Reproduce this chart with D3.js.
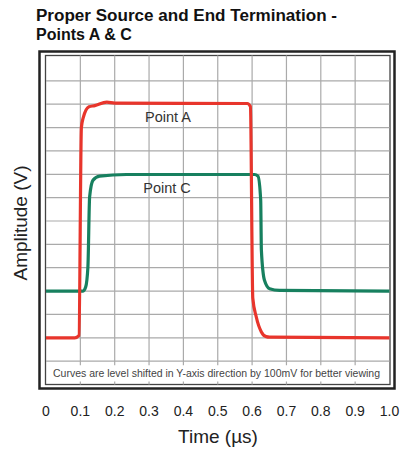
<!DOCTYPE html>
<html>
<head>
<meta charset="utf-8">
<script src="https://cdn.jsdelivr.net/npm/d3@7"></script>
<style>
  body { margin: 0; background: #fff; }
  text { font-family: "Liberation Sans", Arial, sans-serif; }
</style>
</head>
<body>
<div id="chart"></div>
<script>
// time (us) and amplitude (V)
var pointA_t = [0, 0.084, 0.096, 0.103, 0.108, 0.125, 0.142, 0.177, 0.2, 0.586, 0.595, 0.602, 0.612, 0.627, 0.641, 0.651, 1.0];
var pointA_v = [0.2, 0.2, 0.21, 1.10, 1.14, 1.189, 1.194, 1.209, 1.205, 1.203, 1.19, 0.37, 0.29, 0.225, 0.205, 0.203, 0.2];
var pointC_t = [0, 0.108, 0.1155, 0.122, 0.127, 0.137, 0.156, 0.234, 0.607, 0.617, 0.625, 0.627, 0.636, 0.651, 0.68, 1.0];
var pointC_v = [0.4, 0.4, 0.417, 0.503, 0.803, 0.875, 0.892, 0.899, 0.899, 0.892, 0.79, 0.575, 0.446, 0.41, 0.403, 0.4];
var xTicks = [0, 0.1, 0.2, 0.3, 0.4, 0.5, 0.6, 0.7, 0.8, 0.9, 1.0];
var xTickLabels = ["0", "0.1", "0.2", "0.3", "0.4", "0.5", "0.6", "0.7", "0.8", "0.9", "1.0"];
var yGrid = [0.1, 0.2, 0.3, 0.4, 0.5, 0.6, 0.7, 0.8, 0.9, 1.0, 1.1, 1.2, 1.3];

var width = 401, height = 449;
var svg = d3.select("#chart").append("svg")
    .attr("width", width)
    .attr("height", height);

var x = d3.scaleLinear().domain([0, 1]).range([46, 389.5]);
var y = d3.scaleLinear().domain([0, 1.4]).range([384.5, 57.5]);

// title
svg.append("text").attr("x", 36).attr("y", 21)
    .attr("textLength", 301).attr("lengthAdjust", "spacingAndGlyphs")
    .style("font-size", "16px").style("font-weight", "bold").attr("fill", "#111")
    .text("Proper Source and End Termination -");
svg.append("text").attr("x", 36).attr("y", 40)
    .style("font-size", "16px").style("font-weight", "bold").attr("fill", "#111")
    .text("Points A & C");

// frames
svg.append("rect").attr("x", 39.5).attr("y", 51.5).attr("width", 355).attr("height", 337)
    .attr("fill", "#fff").attr("stroke", "#222").attr("stroke-width", 2.5);
svg.append("rect").attr("x", x(0) - 0.5).attr("y", y(1.4) - 2).attr("width", x(1) - x(0) + 1).attr("height", y(0) - y(1.4) + 2)
    .attr("fill", "#fff").attr("stroke", "#444").attr("stroke-width", 1.3);

// grid
var grid = svg.append("g").attr("stroke", "#aaa").attr("stroke-width", 1.2);
grid.selectAll(".vx").data(xTicks.slice(1, -1)).enter().append("line")
    .attr("x1", function(d) { return x(d); }).attr("x2", function(d) { return x(d); })
    .attr("y1", y(1.4) - 2).attr("y2", y(0.1) + 4);
grid.selectAll(".bx").data(xTicks.slice(1, -1)).enter().append("line")
    .attr("x1", function(d) { return x(d); }).attr("x2", function(d) { return x(d); })
    .attr("y1", y(0) - 3).attr("y2", y(0));
grid.selectAll(".hy").data(yGrid).enter().append("line")
    .attr("x1", x(0)).attr("x2", x(1))
    .attr("y1", function(d) { return y(d); }).attr("y2", function(d) { return y(d); });

// curves
var line = d3.line()
    .x(function(d) { return x(d[0]); })
    .y(function(d) { return y(d[1]); })
    .curve(d3.curveMonotoneX);

svg.append("path").datum(d3.zip(pointC_t, pointC_v))
    .attr("d", line).attr("fill", "none")
    .attr("stroke", "#17805f").attr("stroke-width", 3.2).attr("stroke-linejoin", "round");
svg.append("path").datum(d3.zip(pointA_t, pointA_v))
    .attr("d", line).attr("fill", "none")
    .attr("stroke", "#e8352c").attr("stroke-width", 3.2).attr("stroke-linejoin", "round");

// curve labels
svg.append("text").attr("x", 168).attr("y", 122).attr("text-anchor", "middle")
    .style("font-size", "14.5px").attr("fill", "#333").text("Point A");
svg.append("text").attr("x", 167).attr("y", 193).attr("text-anchor", "middle")
    .style("font-size", "14.5px").attr("fill", "#333").text("Point C");

// note
svg.append("text").attr("x", 53).attr("y", 377)
    .attr("textLength", 327).attr("lengthAdjust", "spacingAndGlyphs")
    .style("font-size", "10.5px").attr("fill", "#444")
    .text("Curves are level shifted in Y-axis direction by 100mV for better viewing");

// x tick labels
svg.selectAll(".xt").data(xTicks).enter().append("text")
    .attr("x", function(d) { return x(d); }).attr("y", 416)
    .attr("text-anchor", "middle")
    .style("font-size", "14px").attr("fill", "#222")
    .text(function(d, i) { return xTickLabels[i]; });

// axis titles
svg.append("text").attr("x", 218).attr("y", 443).attr("text-anchor", "middle")
    .style("font-size", "19px").attr("fill", "#222").text("Time (µs)");
svg.append("text").attr("transform", "translate(27,223) rotate(-90)").attr("text-anchor", "middle")
    .style("font-size", "19px").attr("fill", "#222").text("Amplitude (V)");
</script>
</body>
</html>
